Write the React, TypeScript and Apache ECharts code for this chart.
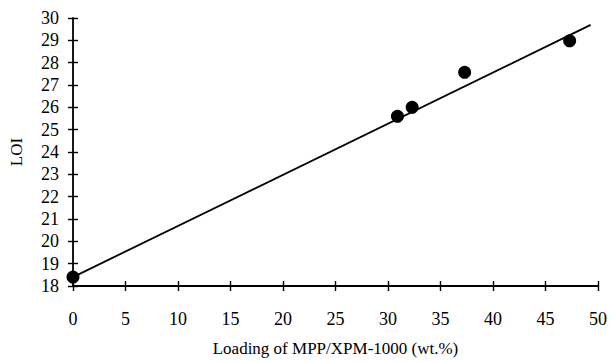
import React, { useEffect, useRef } from "react";
import * as echarts from "echarts";

const loading = [0, 30.9, 32.3, 37.3, 47.3];
const loi = [18.4, 25.6, 26.0, 27.57, 28.98];
const fitX = [0, 49.3];
const fitY = [18.4, 29.69];

export default function App() {
  const ref = useRef<HTMLDivElement>(null);
  useEffect(() => {
    const chart = echarts.init(ref.current!, null, { renderer: "svg" });
    const font = "Liberation Serif";
    const axisLine = { show: true, lineStyle: { color: "#000", width: 1.8 } };
    const tickStyle = { color: "#000", width: 1.4 };
    chart.setOption({
      animation: false,
      backgroundColor: "#fff",
      grid: { left: 73, right: 13, top: 18, bottom: 72 },
      xAxis: [
        {
          type: "value", min: 0, max: 50, interval: 5,
          axisLine, splitLine: { show: false },
          axisTick: { show: true, length: 5, lineStyle: tickStyle },
          axisLabel: { color: "#000", fontFamily: font, fontSize: 18, margin: 24 },
          name: "Loading of MPP/XPM-1000 (wt.%)", nameLocation: "middle", nameGap: 54,
          nameTextStyle: { color: "#000", fontFamily: font, fontSize: 17 },
        },
        {
          type: "value", min: 0, max: 50, interval: 5, position: "bottom",
          axisLine: { show: false }, splitLine: { show: false },
          axisTick: { show: true, inside: true, length: 5, lineStyle: tickStyle },
          axisLabel: { show: false },
        },
      ],
      yAxis: [
        {
          type: "value", min: 18, max: 30, interval: 1,
          axisLine, splitLine: { show: false },
          axisTick: { show: true, length: 5, lineStyle: tickStyle },
          axisLabel: { color: "#000", fontFamily: font, fontSize: 18, margin: 14 },
          name: "LOI", nameLocation: "middle", nameGap: 48, nameRotate: 90,
          nameTextStyle: { color: "#000", fontFamily: font, fontSize: 17 },
        },
        {
          type: "value", min: 18, max: 30, interval: 1, position: "left",
          axisLine: { show: false }, splitLine: { show: false },
          axisTick: { show: true, inside: true, length: 5, lineStyle: tickStyle },
          axisLabel: { show: false },
        },
      ],
      series: [
        {
          type: "line",
          data: fitX.map((x, i) => [x, fitY[i]]),
          showSymbol: false, symbol: "none",
          lineStyle: { color: "#000", width: 1.8 },
          z: 3,
        },
        {
          type: "scatter",
          data: loading.map((x, i) => [x, loi[i]]),
          symbol: "circle", symbolSize: 13,
          itemStyle: { color: "#000", opacity: 1 },
          z: 4,
        },
      ],
    });
    return () => chart.dispose();
  }, []);
  return <div ref={ref} style={{ width: 611, height: 362, position: "absolute", left: 0, top: 0 }} />;
}
